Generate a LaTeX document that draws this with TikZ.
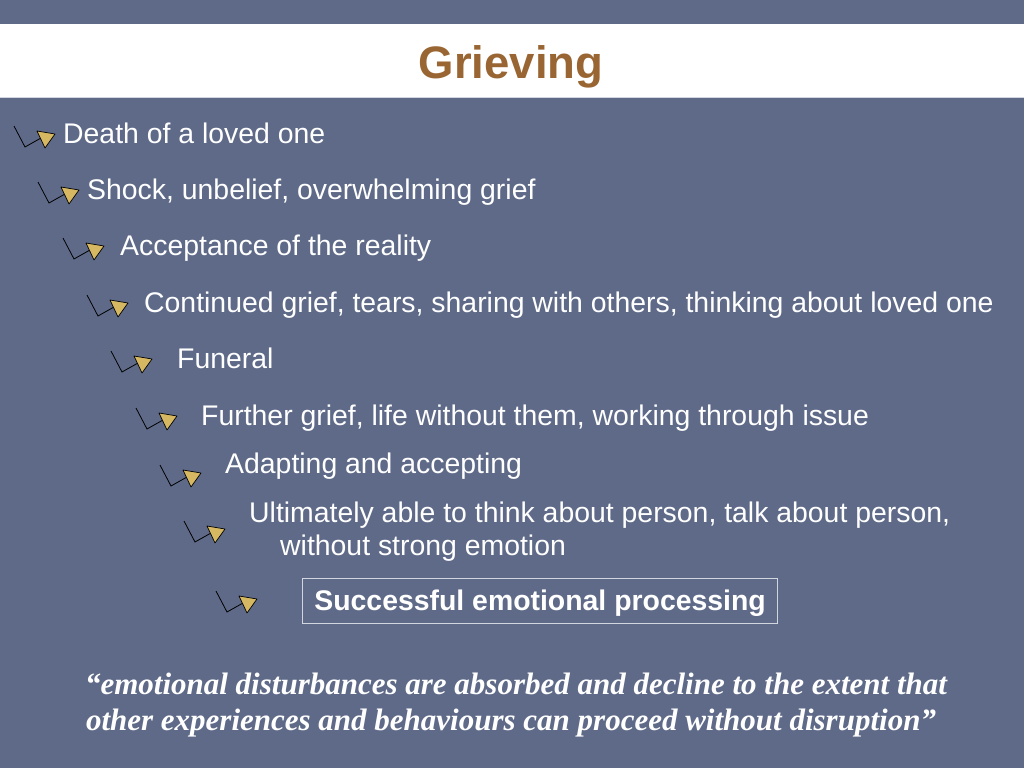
\documentclass[tikz,border=0pt]{standalone}
\usepackage{fontspec}
\setmainfont{Liberation Sans}
\newfontfamily\quotefont{Liberation Serif}
\definecolor{slide}{HTML}{5E6A88}
\definecolor{titlebrown}{HTML}{996633}
\definecolor{bulletgold}{HTML}{D6B862}
\definecolor{rulegray}{HTML}{D2D6DE}
\begin{document}
\begin{tikzpicture}[x=1pt,y=-1pt,
  item/.style={anchor=base west,inner sep=0pt,text=white,font=\fontsize{28.4}{34}\selectfont},
  quote/.style={anchor=base,inner sep=0pt,text=white,font=\quotefont\bfseries\itshape\fontsize{31}{36}\selectfont},
  bulletmark/.pic={\draw[line width=.8pt,black] (0,-17)--(11,4)--(27,-5);
    \filldraw[fill=bulletgold,draw=black,line width=.7pt,line join=round] (23,-12)--(41,-9)--(31,5)--cycle;}]
% slide and title band
\fill[slide](0,0)rectangle(1024,768);
\useasboundingbox(0,0)rectangle(1024,768);
\fill[white](0,24)rectangle(1024,97);
\draw[rulegray,line width=1.2pt](0,97.5)--(1024,97.5);
\node (title) at (511,78)[anchor=base,inner sep=0pt,text=titlebrown,font=\bfseries\fontsize{45.5}{50}\selectfont]{Grieving};
% bullets
\pic at (14,143){bulletmark};
\pic at (38,199){bulletmark};
\pic at (63,255){bulletmark};
\pic at (87,312){bulletmark};
\pic at (111,368){bulletmark};
\pic at (136,425){bulletmark};
\pic at (160,482){bulletmark};
\pic at (184,538){bulletmark};
\pic at (216,608){bulletmark};
% steps
\node (death) at (63,143)[item]{Death of a loved one};
\node (shock) at (87,199)[item]{Shock, unbelief, overwhelming grief};
\node (accept) at (120,255)[item]{Acceptance of the reality};
\node (cont) at (144,312)[item]{Continued grief, tears, sharing with others, thinking about loved one};
\node (funeral) at (177,368)[item]{Funeral};
\node (further) at (201,425)[item]{Further grief, life without them, working through issue};
\node (adapt) at (225,473)[item]{Adapting and accepting};
\node (ultim) at (249,522)[item]{Ultimately able to think about person, talk about person,};
\node (ultimb) at (280,555)[item]{without strong emotion};
\node (success) at (302,610)[item,draw=rulegray,line width=.8pt,inner xsep=12pt,text height=32pt,text depth=13pt,font=\bfseries\fontsize{28.4}{34}\selectfont]{Successful emotional processing};
% quotation
\node (quoteA) at (516,694)[quote]{“emotional disturbances are absorbed and decline to the extent that};
\node (quoteB) at (511,730)[quote]{other experiences and behaviours can proceed without disruption”};
\end{tikzpicture}
\end{document}
